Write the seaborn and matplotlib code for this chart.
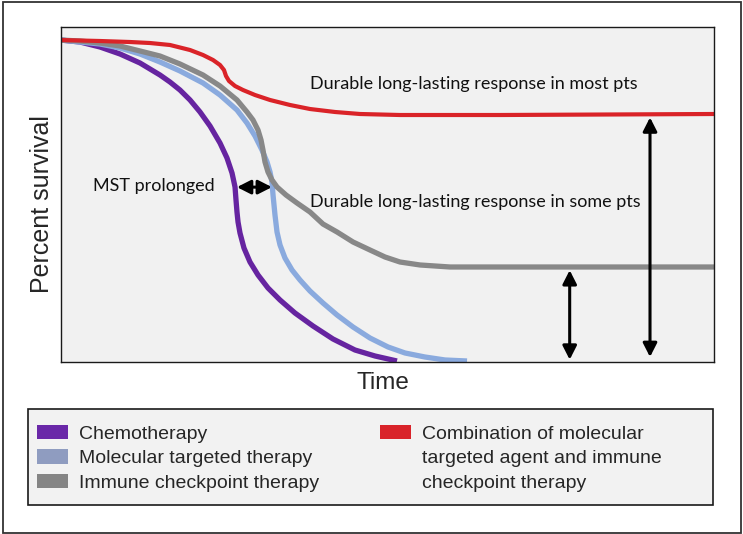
import matplotlib
matplotlib.use("Agg")
import matplotlib.pyplot as plt
import seaborn as sns
import pandas as pd
from matplotlib.patches import Rectangle, Patch

# ---------------- data (time 0-100, percent survival 0-100) ----------------
chemo_time = [0, 2.91, 5.97, 9.04, 12.10, 15.16, 16.69, 18.22, 19.76, 21.29, 22.82, 24.35, 25.42,
              26.19, 26.65, 26.80, 26.95, 27.11, 27.41, 28.02, 28.94, 30.17, 31.70, 33.54, 35.83,
              38.59, 41.65, 45.02, 48.09, 51.45]
chemo_surv = [96.1, 95.52, 94.03, 91.94, 89.25, 85.67, 83.58, 81.19, 78.21, 74.63, 70.45, 65.37, 60.90,
              56.42, 52.24, 48.36, 44.78, 41.79, 38.51, 34.03, 29.85, 25.97, 22.09, 18.51, 14.63,
              10.75, 6.87, 3.58, 1.79, 0.30]

targeted_time = [0, 2.91, 5.97, 9.04, 12.10, 15.16, 18.22, 21.75, 24.35, 26.95, 28.48, 29.71, 30.78,
                 31.55, 32.01, 32.31, 32.47, 32.62, 32.77, 33.08, 33.54, 34.30, 35.38, 36.60, 38.13,
                 40.12, 42.27, 44.72, 47.32, 50.08, 52.68, 55.74, 58.81, 62.18]
targeted_surv = [96.1, 95.52, 94.93, 93.73, 91.94, 89.55, 86.87, 83.28, 79.70, 75.22, 71.34, 67.46, 63.28,
                 59.70, 56.72, 53.73, 49.85, 46.87, 43.88, 38.81, 34.93, 31.04, 27.46, 24.48, 21.19,
                 17.61, 14.03, 10.45, 7.16, 4.48, 2.69, 1.49, 0.60, 0.30]

immune_time = [0, 2.91, 5.97, 9.04, 12.10, 15.16, 18.22, 21.75, 24.35, 26.95, 28.48, 29.40, 30.17,
               30.63, 30.93, 31.24, 31.70, 32.31, 33.08, 34.46, 36.14, 38.13, 40.12, 42.27, 44.72,
               47.32, 49.62, 51.91, 54.98, 59.57, 100]
immune_surv = [96.1, 95.82, 95.22, 94.33, 92.84, 91.34, 88.96, 85.67, 82.39, 78.21, 74.63, 72.24, 69.25,
               66.27, 63.28, 59.70, 56.72, 54.33, 52.24, 49.85, 47.46, 44.78, 41.19, 38.81, 35.82,
               33.43, 31.34, 29.85, 28.96, 28.36, 28.36]

combo_time = [0, 5.97, 10.57, 13.63, 16.69, 19.76, 21.75, 23.28, 24.35, 24.96, 25.27, 25.73, 26.65,
              27.87, 29.71, 32.01, 35.07, 38.13, 41.96, 45.79, 51.91, 67.23, 100]
combo_surv = [96.1, 95.82, 95.52, 95.22, 94.63, 93.13, 91.64, 90.15, 88.66, 87.16, 85.37, 83.88, 82.39,
              81.19, 79.70, 78.21, 76.72, 75.52, 74.63, 74.03, 73.73, 73.73, 74.03]

series_names = ["Chemotherapy", "Molecular targeted therapy", "Immune checkpoint therapy",
                "Combination of molecular\ntargeted agent and immune\ncheckpoint therapy"]
line_colors = ["#6624a0", "#8aaade", "#888888", "#da2328"]
legend_colors = ["#6a28a8", "#8f9cc0", "#858585", "#d9232a"]

mst_gap = (26.95, 32.3, 52.2)          # chemo MST, targeted MST, survival level
immune_plateau = 27.4
combo_plateau = 73.0
immune_arrow_time = 77.9
combo_arrow_time = 90.2

annotations = ["Durable long-lasting response in most pts",
               "Durable long-lasting response in some pts",
               "MST prolonged"]

# ---------------- style ----------------
sns.set_style("white")
plt.rcParams['font.family'] = ['Liberation Sans', 'DejaVu Sans']

fig = plt.figure(figsize=(7.43, 5.34), dpi=100)
ax = fig.add_axes([61 / 743, 1 - 362 / 534, (714 - 61) / 743, (362 - 27) / 534])
ax.set_facecolor("#f1f1f1")

frames = []
for name, t, s in zip(series_names,
                      [chemo_time, targeted_time, immune_time, combo_time],
                      [chemo_surv, targeted_surv, immune_surv, combo_surv]):
    frames.append(pd.DataFrame({"time": t, "survival": s, "series": name}))
df = pd.concat(frames, ignore_index=True)

widths = [3.8, 3.8, 3.8, 3.0]
for name, col, lw in zip(series_names, line_colors, widths):
    sub = df[df["series"] == name]
    sns.lineplot(data=sub, x="time", y="survival", color=col, linewidth=lw,
                 estimator=None, sort=False, ax=ax, legend=False)
for ln in ax.get_lines():
    ln.set_solid_capstyle("butt")
    ln.set_solid_joinstyle("round")

ax.set_xlim(0, 100)
ax.set_ylim(0, 100)
ax.set_xticks([])
ax.set_yticks([])
for sp in ax.spines.values():
    sp.set_color("#1a1a1a")
    sp.set_linewidth(1.0)

ax.set_xlabel("Time", fontsize=17.5, va="center")
ax.xaxis.set_label_coords(0.493, -0.063)
ax.set_ylabel("Percent survival", fontsize=18, va="center")
ax.yaxis.set_label_coords(-0.029, 0.472)

# arrows
arrow_kw = dict(arrowstyle="<|-|>,head_length=0.55,head_width=0.28", color="black",
                lw=2.2, mutation_scale=15, shrinkA=0, shrinkB=0)
ax.annotate("", xy=(mst_gap[0], mst_gap[2]), xytext=(mst_gap[1], mst_gap[2]), arrowprops=arrow_kw)
ax.annotate("", xy=(immune_arrow_time, 0.7), xytext=(immune_arrow_time, immune_plateau), arrowprops=arrow_kw)
ax.annotate("", xy=(combo_arrow_time, 1.5), xytext=(combo_arrow_time, combo_plateau), arrowprops=arrow_kw)

afont = dict(family=["Lato", "DejaVu Sans"], fontsize=13, color="#111111", va="center", ha="left")
ax.text(38.1, 83.0, annotations[0], **afont)
ax.text(38.1, 47.8, annotations[1], **afont)
ax.text(4.9, 52.5, annotations[2], **afont)

# legend box
fig.add_artist(Rectangle((28 / 743, 1 - 505 / 534), (713 - 28) / 743, (505 - 409) / 534,
                         transform=fig.transFigure, facecolor="#f2f2f2",
                         edgecolor="#1a1a1a", linewidth=1.2, zorder=1))
handles = [Patch(facecolor=c, edgecolor="none") for c in legend_colors]
combo_lines = series_names[3].split("\n")
handles = handles[:3] + [handles[3],
                         Patch(facecolor="none", edgecolor="none"),
                         Patch(facecolor="none", edgecolor="none")]
labels = series_names[:3] + combo_lines
leg = fig.legend(handles, labels, ncol=2, loc="upper left",
                 bbox_to_anchor=(37 / 743, 1 - 425 / 534), frameon=False,
                 fontsize=14, handlelength=1.6, handleheight=0.75,
                 handletextpad=0.57, columnspacing=3.1, labelspacing=0.33,
                 borderpad=0, borderaxespad=0)
leg.set_zorder(2)

# outer border
fig.add_artist(Rectangle((3 / 743, 1 / 534), (741 - 3) / 743, (532 - 1) / 534,
                         transform=fig.transFigure, facecolor="none",
                         edgecolor="#333333", linewidth=1.3, zorder=0))

fig.savefig("out.png", dpi=100)
